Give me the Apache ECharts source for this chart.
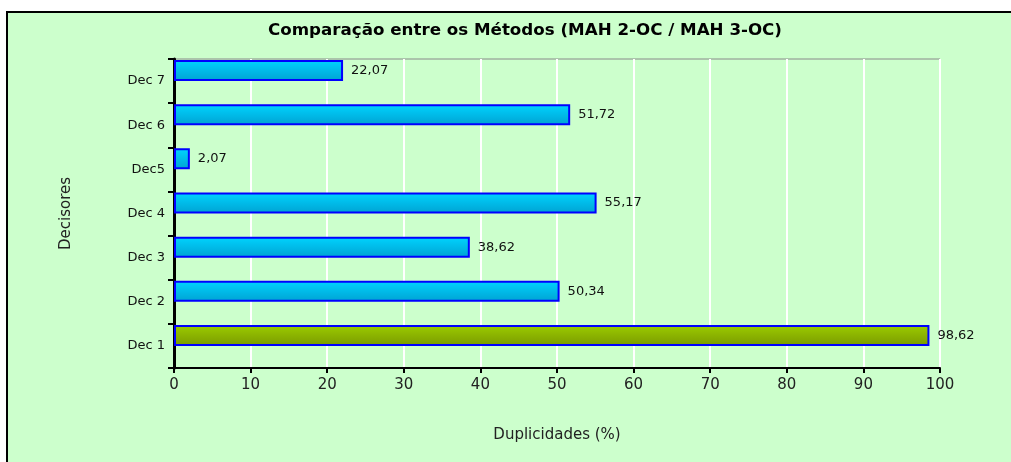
<!DOCTYPE html>
<html>
<head>
<meta charset="utf-8">
<script src="https://cdn.jsdelivr.net/npm/echarts@6/dist/echarts.min.js"></script>
<style>
  html, body { margin: 0; padding: 0; background: #fff; }
  #frame {
    position: absolute; left: 6px; top: 11px;
    width: 1005px; height: 451px;
    background: #ccffcc;
    border-top: 2px solid #000; border-left: 2px solid #000;
  }
  #chart { width: 1003px; height: 449px; }
</style>
</head>
<body>
<div id="frame"><div id="chart"></div></div>
<script>
// dados (de baixo para cima)
const decisores = ['Dec 1', 'Dec 2', 'Dec 3', 'Dec 4', 'Dec5', 'Dec 6', 'Dec 7']
const duplicidades = [98.62, 50.34, 38.62, 55.17, 2.07, 51.72, 22.07]
const xTicks = [0, 10, 20, 30, 40, 50, 60, 70, 80, 90, 100]

const font = '"DejaVu Sans", sans-serif'

const azul = new echarts.graphic.LinearGradient(0, 0, 0, 1, [
    { offset: 0, color: '#00d4ff' },
    { offset: 1, color: '#00a2d2' }
])
const verde = new echarts.graphic.LinearGradient(0, 0, 0, 1, [
    { offset: 0, color: '#9ccc00' },
    { offset: 1, color: '#7a9a00' }
])

const myChart = echarts.init(document.getElementById('chart'))

const option = {
    animation: false,
    title: {
        text: 'Comparação entre os Métodos (MAH 2-OC / MAH 3-OC)',
        left: 512, top: 4, textAlign: 'center',
        textStyle: { fontFamily: font, fontWeight: 'bold', fontSize: 16.7, color: '#000' }
    },
    grid: {
        left: 166, top: 46, width: 766, height: 309,
        show: true, borderColor: '#8a8a8a', borderWidth: 1, backgroundColor: 'transparent'
    },
    xAxis: {
        type: 'value', min: xTicks[0], max: xTicks[xTicks.length - 1], interval: 10,
        name: 'Duplicidades (%)', nameLocation: 'middle', nameGap: 60,
        nameTextStyle: { fontFamily: font, fontSize: 15, color: '#222' },
        axisLine: { show: true, lineStyle: { color: '#000', width: 2 } },
        axisTick: { show: true, length: 5, lineStyle: { color: '#000', width: 2 } },
        axisLabel: { fontFamily: font, fontSize: 15, color: '#222', margin: 10 },
        splitLine: { show: true, lineStyle: { color: '#ffffff', width: 2 } }
    },
    yAxis: {
        type: 'category', data: decisores,
        name: 'Decisores', nameLocation: 'middle', nameGap: 100, nameRotate: 90,
        nameTextStyle: { fontFamily: font, fontSize: 15, color: '#222' },
        axisLine: { show: true, lineStyle: { color: '#000', width: 3 } },
        axisTick: { show: true, length: 6, inside: false, lineStyle: { color: '#000', width: 2 } },
        axisLabel: { fontFamily: font, fontSize: 13, color: '#111', margin: 9 },
        splitLine: { show: false }
    },
    series: [
        {
            type: 'bar',
            barWidth: 21, barGap: '0%',
            data: duplicidades.map((v, i) => ({
                value: v,
                itemStyle: { color: i === 0 ? verde : azul }
            })),
            itemStyle: { borderColor: '#0000ff', borderWidth: 2 },
            label: {
                show: true, position: 'right', distance: 8,
                fontFamily: font, fontSize: 13, color: '#111',
                formatter: p => p.value.toFixed(2).replace('.', ',')
            }
        },
        {
            type: 'bar',
            barWidth: 21,
            data: decisores.map(() => null)
        }
    ]
}

myChart.setOption(option)
</script>
</body>
</html>
